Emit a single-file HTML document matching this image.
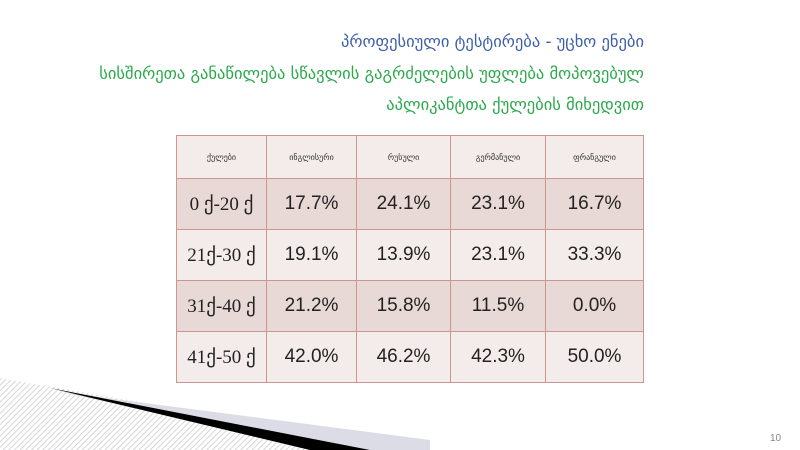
<!DOCTYPE html>
<html><head><meta charset="utf-8"><style>
body{margin:0;width:800px;height:450px;background:#fff;position:relative;overflow:hidden;font-family:"Liberation Sans","DejaVu Sans",sans-serif}
.t{position:absolute;right:156px;font-family:"DejaVu Sans",sans-serif;font-size:16.5px;white-space:nowrap}
table{position:absolute;left:176px;top:135px;border-collapse:collapse}
td{border:1px solid #c9978f;text-align:center;padding:0}
tr.h td{height:42px;background:#f4ecea;font-family:"DejaVu Sans",sans-serif;font-size:8px;color:#333}
tr.d td{height:50px;font-size:19px;color:#222}
tr.a td{background:#e8d8d6}tr.b td{background:#f4ecea}
td.l{font-family:"Liberation Serif",serif;font-size:13px;color:#3a4a7a}
</style></head><body>
<div class="t" style="top:32px;color:#3b5ea8">პროფესიული ტესტირება - უცხო ენები</div>
<div class="t" style="top:64px;color:#2aa84a">სისშირეთა განაწილება სწავლის გაგრძელების უფლება მოპოვებულ</div>
<div class="t" style="top:95px;color:#2aa84a">აპლიკანტთა ქულების მიხედვით</div>
<table>
<tr class="h"><td style="width:89px">ქულები</td><td style="width:89px">ინგლისური</td><td style="width:93px">რუსული</td><td style="width:94px">გერმანული</td><td style="width:97px">ფრანგული</td></tr>
<tr class="d a"><td class="l">0 ქ-20 ქ</td><td>17.7%</td><td>24.1%</td><td>23.1%</td><td>16.7%</td></tr>
<tr class="d b"><td class="l">21ქ-30 ქ</td><td>19.1%</td><td>13.9%</td><td>23.1%</td><td>33.3%</td></tr>
<tr class="d a"><td class="l">31ქ-40 ქ</td><td>21.2%</td><td>15.8%</td><td>11.5%</td><td>0.0%</td></tr>
<tr class="d b"><td class="l">41ქ-50 ქ</td><td>42.0%</td><td>46.2%</td><td>42.3%</td><td>50.0%</td></tr>
</table>
<svg style="position:absolute;left:0;top:0" width="800" height="450">
<defs><pattern id="p" width="4" height="4" patternUnits="userSpaceOnUse" patternTransform="rotate(45)"><rect width="4" height="4" fill="#fff"/><line x1="0" y1="0" x2="0" y2="4" stroke="#c8c8cc" stroke-width="1.5"/></pattern></defs>
<polygon points="0,378 420,450 0,450" fill="url(#p)"/>
<polygon points="60,392 430,440 430,450 340,450" fill="#dcdce6"/>
<polygon points="50,388 370,450 310,450" fill="#000"/>
<text x="770" y="441" font-size="10" fill="#888" font-family="Liberation Sans">10</text>
</svg>
</body></html>
